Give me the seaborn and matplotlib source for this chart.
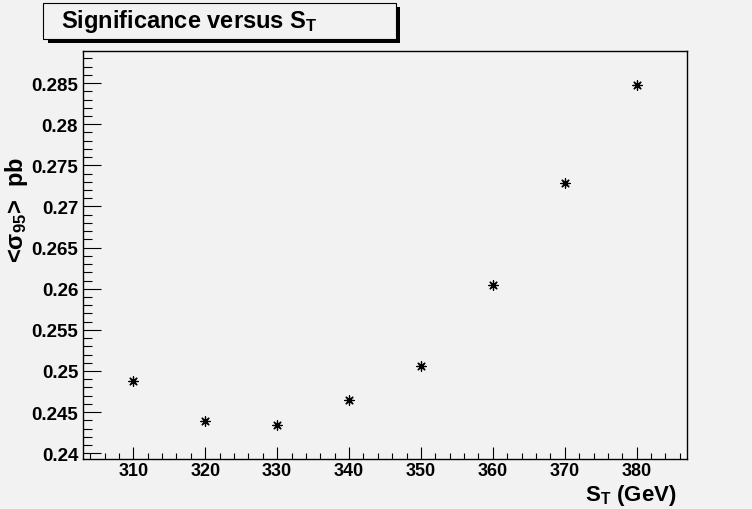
import matplotlib
matplotlib.use("Agg")
import matplotlib.pyplot as plt
from matplotlib.patches import Rectangle
from matplotlib.ticker import MultipleLocator, FuncFormatter
import seaborn as sns
import pandas as pd

# значения
st_values = [310, 320, 330, 340, 350, 360, 370, 380]
sigma95 = [0.2488, 0.2439, 0.2434, 0.2465, 0.2506, 0.2605, 0.2729, 0.2848]
x_range = (303, 387)
y_range = (0.2393, 0.2889)
title_text = "Significance versus S$_\\mathrm{T}$"
xlabel_text = "S$_\\mathrm{T}$ (GeV)"
ylabel_text = "<σ$_\\mathrm{95}$>  pb"

sns.set_style("ticks")
bg = "#f2f2f2"
plt.rcParams['font.family'] = ['Liberation Sans', 'DejaVu Sans']
plt.rcParams['font.weight'] = 'bold'
plt.rcParams['text.color'] = 'black'
plt.rcParams['axes.labelcolor'] = 'black'
plt.rcParams['mathtext.fontset'] = 'custom'
plt.rcParams['mathtext.rm'] = 'Liberation Sans:bold'
plt.rcParams['mathtext.bf'] = 'Liberation Sans:bold'
plt.rcParams['mathtext.it'] = 'Liberation Sans:bold'

df = pd.DataFrame({'st': st_values, 'sigma': sigma95})

W, H = 752, 510
fig = plt.figure(figsize=(W / 100, H / 100), dpi=100, facecolor=bg)
ax = fig.add_axes([83 / W, (H - 460) / H, 604 / W, 408 / H])
ax.set_facecolor(bg)

sns.scatterplot(data=df, x='st', y='sigma', marker=(8, 2, 0), color='black',
                s=45, linewidth=0.9, ax=ax, zorder=3)

ax.set_xlim(*x_range)
ax.set_ylim(*y_range)

# оси в стиле ROOT: засечки внутрь, только слева и снизу
ax.xaxis.set_major_locator(MultipleLocator(10))
ax.xaxis.set_minor_locator(MultipleLocator(2))
ax.yaxis.set_major_locator(MultipleLocator(0.005))
ax.yaxis.set_minor_locator(MultipleLocator(0.001))
ax.yaxis.set_major_formatter(FuncFormatter(lambda v, p: "%g" % round(v, 4)))
ax.tick_params(axis='both', which='both', direction='in', top=False, right=False,
               color='black', width=0.8, labelsize=13.5, labelcolor='black')
ax.tick_params(axis='x', which='major', length=8.6, pad=2.5, labelsize=13)
ax.tick_params(axis='x', which='minor', length=4.3)
ax.tick_params(axis='y', which='major', length=12.6, pad=3.5)
ax.tick_params(axis='y', which='minor', length=6.5)
for side in ['left', 'bottom', 'top', 'right']:
    ax.spines[side].set_visible(True)
    ax.spines[side].set_color('black')
    ax.spines[side].set_linewidth(1.0)

ax.set_xlabel(xlabel_text, fontsize=16, fontweight='bold', ha='right', va='baseline')
ax.xaxis.set_label_coords((677 - 83) / 604, (460 - 501) / 408)
ax.set_ylabel(ylabel_text, fontsize=17, fontweight='bold', ha='center', va='center')
ax.yaxis.set_label_coords((17 - 83) / 604, (460 - 210) / 408)

# рамка заголовка с тенью
fig.add_artist(Rectangle((48 / W, 1 - 44 / H), 352 / W, 36 / H, transform=fig.transFigure,
                         facecolor='black', edgecolor='none', zorder=1))
fig.add_artist(Rectangle((43 / W, 1 - 40 / H), 353 / W, 36 / H, transform=fig.transFigure,
                         facecolor=bg, edgecolor='black', linewidth=0.8, zorder=2))
fig.text(61 / W, 1 - 28 / H, title_text, fontsize=17, fontweight='bold',
         ha='left', va='baseline', zorder=3)

fig.savefig('out.png', dpi=100, facecolor=bg)
